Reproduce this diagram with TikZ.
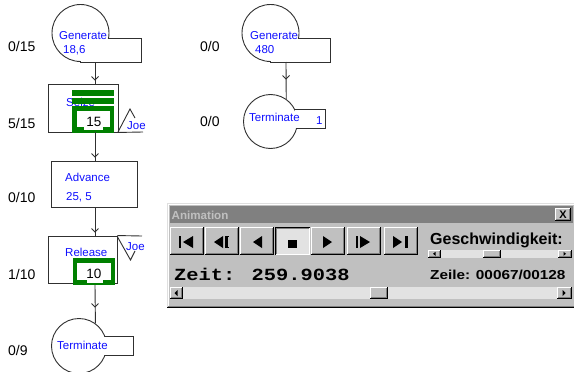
\documentclass[tikz,border=0pt]{standalone}
\usepackage{fontspec}
\usepackage{graphicx}
\setmainfont{Liberation Sans}
\newfontfamily\zmono{Liberation Mono}
\usetikzlibrary{calc}
\definecolor{wgray}{HTML}{C0C0C0}
\definecolor{wdark}{HTML}{808080}
\definecolor{wlight}{HTML}{DFDFDF}
\definecolor{wdith}{HTML}{E2E2E2}
\definecolor{gpss}{HTML}{1010FF}
\definecolor{qgreen}{HTML}{008000}
\definecolor{ln}{HTML}{303030}
\newcommand\wbtn[4]{%
  \fill[wgray] (#1,#2) rectangle (#3,#4);
  \draw[white,line width=1pt] (#1+0.5,#4-1) -- (#1+0.5,#2+0.5) -- (#3-1,#2+0.5);
  \draw[black,line width=1pt] (#1,#4-0.5) -- (#3-0.5,#4-0.5) -- (#3-0.5,#2);
  \draw[wdark,line width=1pt] (#1+1,#4-1.5) -- (#3-1.5,#4-1.5) -- (#3-1.5,#2+1);
}
\newcommand\wbtnp[4]{%
  \fill[wdith] (#1,#2) rectangle (#3,#4);
  \draw[black,line width=1pt] (#1+0.5,#4) -- (#1+0.5,#2+0.5) -- (#3,#2+0.5);
  \draw[wdark,line width=1pt] (#1+1.5,#4-1) -- (#1+1.5,#2+1.5) -- (#3-1,#2+1.5);
  \draw[white,line width=1pt] (#1+1,#4-0.5) -- (#3-0.5,#4-0.5) -- (#3-0.5,#2+1);
}
\newcommand\chev[1]{\draw[flow] ($(#1)+(-3.5,-3.5)$) -- (#1) -- ($(#1)+(3.5,-3.5)$);}
\begin{document}
\begin{tikzpicture}[x=1pt,y=-1pt,
  flow/.style={draw=ln,line width=0.9pt},
  bt/.style={font=\fontsize{11.5}{12}\selectfont,text=gpss,anchor=base west,inner sep=0pt},
  cnt/.style={font=\fontsize{14}{14}\selectfont,anchor=base west,inner sep=0pt},
  qn/.style={font=\fontsize{13.5}{14}\selectfont,anchor=base,inner sep=0pt},
  blockbox/.style={draw=ln,line width=0.9pt,fill=white,inner sep=0pt,rectangle},
  gcirc/.style={draw=ln,line width=0.9pt,fill=white,circle,inner sep=0pt},
]
\useasboundingbox (0,0) rectangle (574,372);
\fill[white] (0,0) rectangle (574,372);

% ---------- Generate 18,6
\node[gcirc,minimum size=57pt] (g1) at (80.5,33) {};
\fill[white] (81,38.5) rectangle (141,61.5);
\draw[flow] (108.6,38) -- (141,38) -- (141,62) -- (80,62);
\node[bt] (g1a) at (59,39) {Generate};
\node[bt] (g1b) at (63,53.5) {18,6};
\coordinate (g1out) at (95,62);

% ---------- Seize
\node[blockbox,minimum width=70pt,minimum height=48pt] (seize) at (83,108) {};
\draw[flow] (seize.south east) -- (143,132);
\draw[flow] (118,132) -- (130,109) -- (135,118);
\node[bt] (sz) at (66,106) {Seize};
\fill[qgreen] (72,90) rectangle (114,95.7);
\fill[qgreen] (72,97.7) rectangle (114,104);
\fill[qgreen] (72,106) rectangle (114,133);
\fill[white] (77,111) rectangle (110,127);
\fill[white] (84,126) rectangle (103,129.5);
\node[qn] (q15) at (94,126.5) {15};
\node[bt] (joe1) at (127,129) {Joe};

% ---------- Advance
\node[blockbox,minimum width=86pt,minimum height=46pt] (adv) at (94,184) {};
\node[bt] (adva) at (65,181.7) {Advance};
\node[bt] (advb) at (66,200.7) {25, 5};

% ---------- Release
\node[blockbox,minimum width=69pt,minimum height=47pt] (rel) at (82.5,259.5) {};
\draw[flow] (rel.north east) -- (142,236);
\draw[flow] (117,236) -- (130.5,260) -- (135,251);
\node[bt] (rela) at (65,256.7) {Release};
\fill[qgreen] (73,258.3) rectangle (115,285);
\fill[white] (77,262.7) rectangle (111,280);
\fill[white] (87,279) rectangle (103,282.7);
\node[qn] (q10) at (94,278.3) {10};
\node[bt] (joe2) at (126,250) {Joe};
\coordinate (q10b) at (95,285);

% ---------- Terminate (left)
\node[gcirc,minimum size=55pt] (t1) at (79,346) {};
\fill[white] (104,336.5) rectangle (133,354.5);
\draw[flow] (104.6,336) -- (133,336) -- (133,355) -- (105,355);
\node[bt] (t1a) at (57,349.3) {Terminate};

% ---------- Generate 480
\node[gcirc,minimum size=57pt] (g2) at (270.5,33) {};
\fill[white] (271,38.5) rectangle (330,61.5);
\draw[flow] (298.6,38) -- (330,38) -- (330,62) -- (270,62);
\node[bt] (g2a) at (250,39) {Generate};
\node[bt] (g2b) at (255,53.5) {480};
\coordinate (g2out) at (286,62);

% ---------- Terminate 1
\node[gcirc,minimum size=54pt] (t2) at (270.5,121.5) {};
\fill[white] (294.6,109.5) rectangle (325,127.5);
\draw[flow] (294.4,109) -- (325,109) -- (325,128) -- (296.7,128);
\node[bt] (t2a) at (249,121.5) {Terminate};
\node[bt] (t2b) at (316,124) {1};

% ---------- counters
\node[cnt] (c1) at (8,51.7) {0/15};
\node[cnt] (c2) at (8,128) {5/15};
\node[cnt] (c3) at (8,202.7) {0/10};
\node[cnt] (c4) at (8,279.3) {1/10};
\node[cnt] (c5) at (8,355) {0/9};
\node[cnt] (c6) at (200,51.7) {0/0};
\node[cnt] (c7) at (200,126.7) {0/0};

% ---------- connectors
\draw[flow] (g1out) -- (g1out |- seize.north);
\draw[flow] (g1out |- seize.south) -- (g1out |- adv.north);
\draw[flow] (g1out |- adv.south) -- (g1out |- rel.north);
\draw[flow] (q10b) -- (t1.54.4);
\draw[flow] (g2out) -- (t2.55);
\coordinate (ch1) at (95,80);
\coordinate (ch2) at (95,157);
\coordinate (ch3) at (95,232);
\coordinate (ch4) at (95,307);
\coordinate (ch5) at (286,79);
\chev{ch1}\chev{ch2}\chev{ch3}\chev{ch4}\chev{ch5}

% ---------- Animation window
\fill[wgray] (167,203) rectangle (574,308);
\draw[wlight,line width=1pt] (167.5,308) -- (167.5,203.5) -- (574,203.5);
\draw[white,line width=1pt] (168.5,307) -- (168.5,204.5) -- (574,204.5);
\draw[wdark,line width=1pt] (168,306.5) -- (574,306.5);
\draw[black,line width=1pt] (167,307.5) -- (574,307.5);
\fill[wdark] (170,206) rectangle (573,223);
\node[anchor=base west,inner sep=0pt,font=\bfseries\fontsize{11.6}{12}\selectfont,text=wgray] (wtitle) at (171.5,219.5) {Animation};
\wbtn{555}{208}{571}{221}
\node[inner sep=0pt,font=\bfseries\fontsize{11}{11}\selectfont] (xclose) at (563,214.5) {X};

% buttons
\wbtn{170}{227}{204}{255}
\wbtn{205}{227}{239}{255}
\wbtn{240}{227}{274}{255}
\wbtnp{275}{227}{310}{255}
\wbtn{311}{227}{345}{255}
\wbtn{347}{227}{381}{255}
\wbtn{384}{227}{418}{255}
\fill[black] (179,236) rectangle (181,248);
\fill[black] (183,242) -- (193,236) -- (193,248) -- cycle;
\fill[black] (214,242) -- (223,236) -- (223,248) -- cycle;
\fill[black] (225,236) rectangle (227.5,248);
\fill[black] (225,236) rectangle (229,237.3);
\fill[black] (225,246.7) rectangle (229,248);
\fill[black] (253,242) -- (262,236) -- (262,248) -- cycle;
\fill[black] (288,239.5) rectangle (297,248.3);
\fill[black] (323,236) -- (332,242) -- (323,248) -- cycle;
\fill[black] (356,236) rectangle (358,248);
\fill[black] (360,236) -- (370,242) -- (360,248) -- cycle;
\fill[black] (393,236) -- (402,242) -- (393,248) -- cycle;
\fill[black] (405,236) rectangle (407.5,248);

% texts
\node[anchor=base west,inner sep=0pt,font=\zmono\bfseries\fontsize{17}{17}\selectfont] (zeit) at (174,280) {\scalebox{1.2}[1]{Zeit: 259.9038}};
\node[anchor=base west,inner sep=0pt,font=\bfseries\fontsize{16}{16}\selectfont] (gesch) at (430,244) {Geschwindigkeit:};
\node[anchor=base west,inner sep=0pt,font=\bfseries\fontsize{13}{13}\selectfont] (zeile) at (430,279) {\scalebox{1.18}[1]{Zeile: 00067/00128}};

% small slider
\fill[wdith] (428,250) rectangle (572,257.5);
\wbtn{428}{250}{441}{257.5}
\wbtn{483}{250}{501}{257.5}
\wbtn{558}{250}{572}{257.5}
\fill[black] (433,253.8) -- (435.5,251.8) -- (435.5,255.8) -- cycle;
\fill[black] (566,253.8) -- (563.5,251.8) -- (563.5,255.8) -- cycle;

% bottom scrollbar
\fill[wdith] (170,287) rectangle (572,299);
\wbtn{170}{287}{183}{299}
\wbtn{370}{287}{388}{299}
\wbtn{557}{287}{572}{299}
\fill[black] (174.5,293) -- (177.5,290) -- (177.5,296) -- cycle;
\fill[black] (565.5,293) -- (562.5,290) -- (562.5,296) -- cycle;
\end{tikzpicture}
\end{document}
